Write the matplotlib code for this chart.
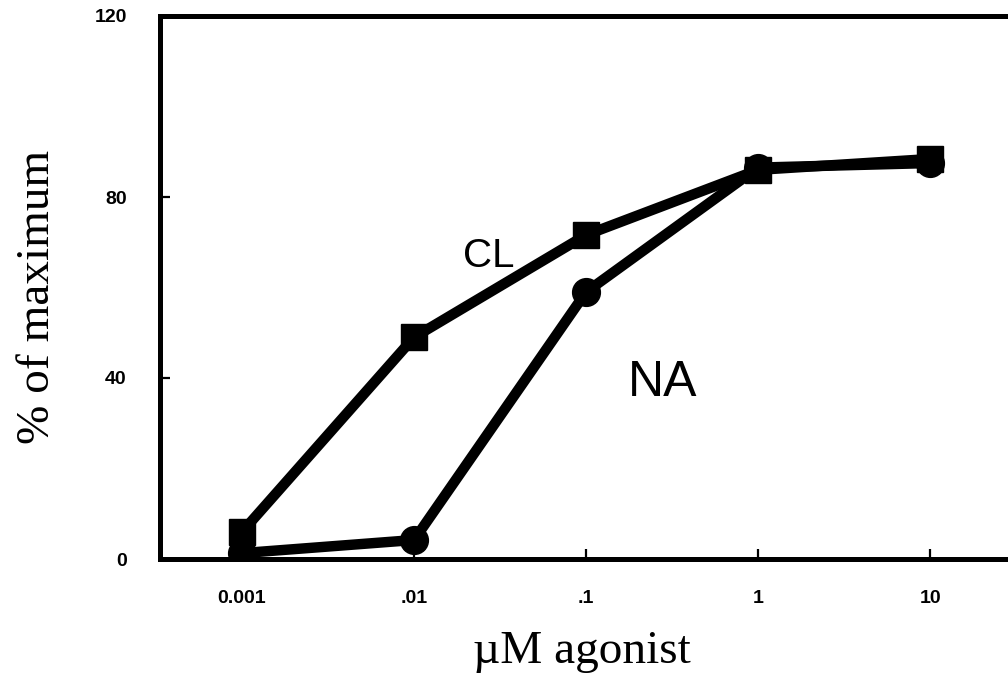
import numpy as np
import matplotlib
matplotlib.use('Agg')
from matplotlib import pyplot as plt

# Values
conc = [0.001, 0.01, 0.1, 1, 10]
clValues = [6, 49, 71.6, 86, 88.4]
naValues = [1.3, 4.2, 59, 86.5, 87.5]
xTickLabels = ['0.001', '.01', '.1', '1', '10']
yTicks = [0, 40, 80, 120]

fig = plt.figure(figsize=(10.08, 6.98), dpi=100)
ax = fig.add_axes([160 / 1008, 1 - 559 / 698, (1008 - 160) / 1008, (559 - 16) / 698])

ax.plot(conc, naValues, color='black', linewidth=7.5, marker='o', markersize=20, zorder=3)
ax.plot(conc, clValues, color='black', linewidth=7.5, marker='s', markersize=19, zorder=4)

ax.set_xscale('log')
ax.set_xlim(10 ** -3.477, 10 ** 1.453)
ax.set_ylim(0, 120)
ax.set_xticks(conc)
ax.set_xticklabels(xTickLabels)
ax.minorticks_off()
ax.set_yticks(yTicks)

for side in ['left', 'bottom', 'top']:
    ax.spines[side].set_linewidth(3.6)
ax.spines['right'].set_visible(False)
ax.tick_params(direction='in', length=7, width=1.6, labelsize=14)
ax.tick_params(axis='x', pad=22)
ax.tick_params(axis='y', pad=24)
for lbl in ax.get_xticklabels() + ax.get_yticklabels():
    lbl.set_fontfamily('Liberation Sans')
    lbl.set_fontweight('bold')

ax.text(0.0273, 67, 'CL', fontsize=29, family='Liberation Sans', ha='center', va='center')
ax.text(0.28, 39, 'NA', fontsize=36, family='Liberation Sans', ha='center', va='center')

fig.text(582 / 1008, 1 - 652 / 698, '\u00b5M agonist', fontsize=34, family='Liberation Serif',
         ha='center', va='center')
fig.text(38 / 1008, 1 - 297 / 698, '% of maximum', fontsize=34, family='Liberation Serif',
         ha='center', va='center', rotation=90)

fig.savefig('out.png', dpi=100)
